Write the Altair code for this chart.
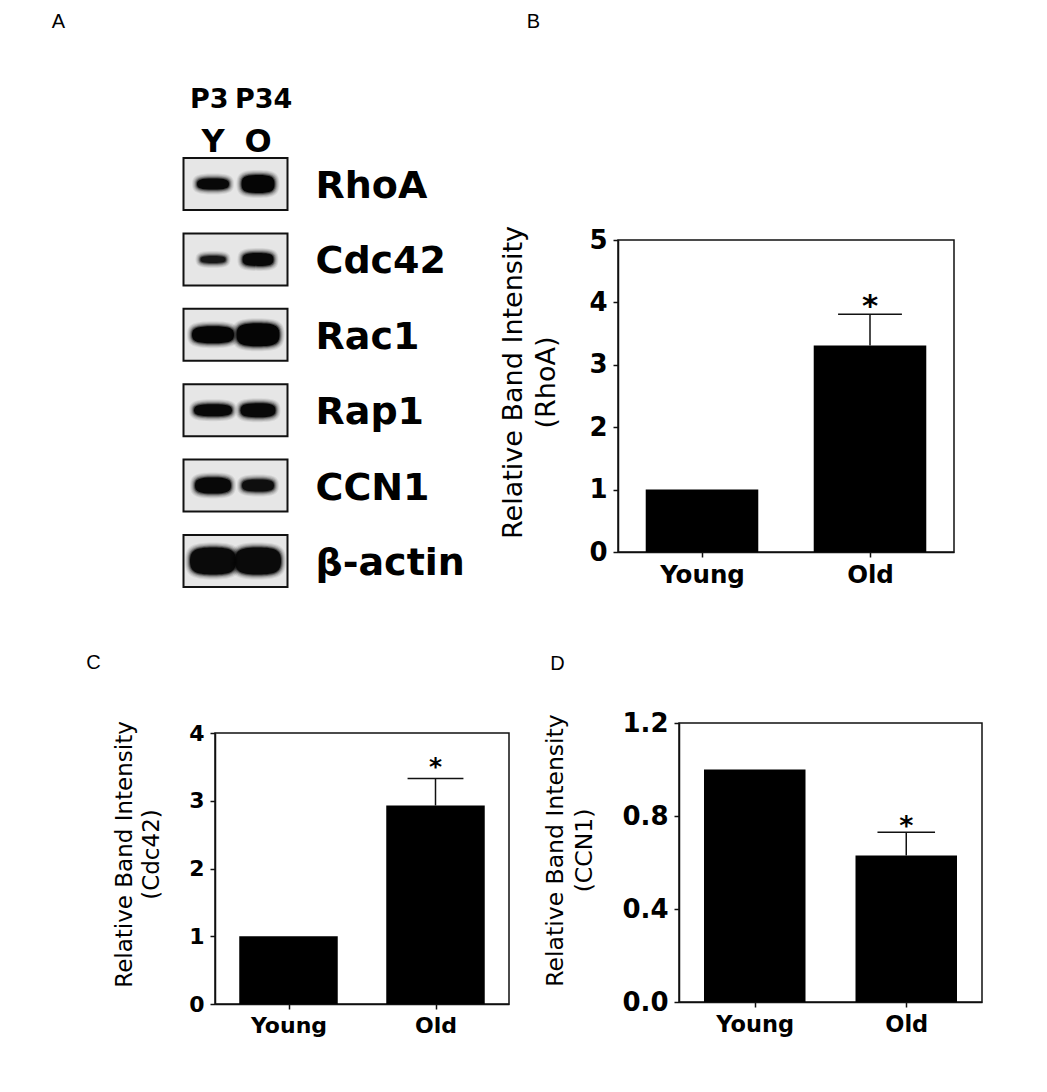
import json
import altair as alt
import pandas as pd

# ---------------- data ----------------
# Panel A (western blot)
proteins = ["RhoA", "Cdc42", "Rac1", "Rap1", "CCN1", "β-actin"]
lanes = ["Y", "O"]
passages = ["P3", "P34"]
# band core width / height (px) and darkness, lane Y then lane O
band_w_Y = [32, 25, 42, 38, 36, 46]
band_w_O = [33, 31, 43, 35, 32, 46]
band_h_Y = [11, 7, 17, 12, 16, 27]
band_h_O = [18, 13, 23, 14, 12, 27]
band_dark_Y = [0.95, 0.72, 1.0, 0.95, 0.95, 0.92]
band_dark_O = [1.0, 0.95, 1.0, 0.95, 0.85, 0.92]

# Panels B-D (bar charts)
groups = ["Young", "Old"]
significance = ["", "*"]
rhoa_mean = [1.0, 3.31]
rhoa_sem = [0.0, 0.50]
cdc42_mean = [1.0, 2.93]
cdc42_sem = [0.0, 0.40]
ccn1_mean = [1.0, 0.63]
ccn1_sem = [0.0, 0.10]

W, H = 1020, 1060
FONT = "DejaVu Sans"
LETTER_FONT = "Liberation Sans"
INK = "#111111"


def blob(r, k=0.78):
    return (f"M-1,0 C-1,{-k*r:.4f} {-k:.4f},{-r:.4f} 0,{-r:.4f} "
            f"C{k:.4f},{-r:.4f} 1,{-k*r:.4f} 1,0 "
            f"C1,{k*r:.4f} {k:.4f},{r:.4f} 0,{r:.4f} "
            f"C{-k:.4f},{r:.4f} -1,{k*r:.4f} -1,0 Z")


BOX_PATH = "M-1,-0.5 L1,-0.5 L1,0.5 L-1,0.5 Z"

# ---------------- panel A ----------------
xa = alt.Scale(domain=[0, 1], range=[205, 250], nice=False, zero=False)
ya = alt.Scale(type="point", domain=proteins, range=[176, 553], padding=0)

band_rows = []
for i, p in enumerate(proteins):
    for j, (ws, hs, ds) in enumerate([(band_w_Y, band_h_Y, band_dark_Y),
                                      (band_w_O, band_h_O, band_dark_O)]):
        w, h, d = ws[i], hs[i], ds[i]
        for grow, op in [(10, 0.07), (8, 0.1), (6, 0.15), (4, 0.25), (2, 0.45), (0, d)]:
            ww, hh = w + grow, h + grow
            band_rows.append({"protein": p, "lane": j, "size": ww * ww,
                              "shape": blob(hh / ww), "op": op})
bands_df = pd.DataFrame(band_rows)
boxes_df = pd.DataFrame({"protein": proteins, "mid": [0.5] * len(proteins)})
head_df = pd.DataFrame({"lane": list(range(len(lanes))), "passage": passages,
                        "label": lanes, "protein": [proteins[0]] * len(lanes)})

XA = alt.X("mid:Q", scale=xa, axis=None)
YA = alt.Y("protein:N", scale=ya, axis=None)

boxes = alt.Chart(boxes_df).mark_point(
    shape=BOX_PATH, size=104 * 104, filled=True, fill="#e6e6e6",
    stroke=INK, strokeWidth=2, opacity=1
).encode(x=XA, y=YA)

bands = alt.Chart(bands_df).mark_point(filled=True, color="#050505", strokeWidth=0).encode(
    x=alt.X("lane:Q", scale=xa, axis=None), y=YA,
    size=alt.Size("size:Q", scale=None),
    shape=alt.Shape("shape:N", scale=None),
    opacity=alt.Opacity("op:Q", scale=None),
)

names = alt.Chart(boxes_df).mark_text(
    align="left", baseline="middle", dx=80, dy=3, font=FONT, fontWeight="bold",
    fontSize=38, color="black"
).encode(x=XA, y=YA, text="protein:N")

head1 = alt.Chart(head_df).mark_text(
    align="left", baseline="middle", dx=-23, dy=-84, font=FONT, fontWeight="bold",
    fontSize=27, color="black"
).encode(x=alt.X("lane:Q", scale=xa, axis=None), y=YA, text="passage:N")

head2 = alt.Chart(head_df).mark_text(
    align="center", baseline="middle", dy=-42, font=FONT, fontWeight="bold",
    fontSize=32, color="black"
).encode(x=alt.X("lane:Q", scale=xa, axis=None), y=YA, text="label:N")

letterA = alt.Chart(head_df.iloc[[0]]).mark_text(
    text="A", align="center", baseline="middle", dx=-154.6, dy=-162.5,
    font=LETTER_FONT, fontSize=20, color="black"
).encode(x=alt.X("lane:Q", scale=xa, axis=None), y=YA)

panelA = [boxes, bands, names, head1, head2, letterA]


# ---------------- panels B-D ----------------
def bar_panel(gene, means, sems, ymax, yticks, fmt, xr, yr, fs_y, fs_x, fs_t,
              lh_t, tpad, title_y, letter, ldx, ldy, star_fs, star_dy):
    n = len(groups)
    df = pd.DataFrame({"group": groups, "mean": means, "sem": sems,
                       "sig": significance})
    df["pos"] = [i + 0.5 for i in range(n)]
    df["top"] = df["mean"] + df["sem"]
    fdf = pd.DataFrame({"x0": [0], "x1": [n], "y0": [0], "y1": [ymax]})
    xs = alt.Scale(domain=[0, n], range=xr, nice=False, zero=False)
    ys = alt.Scale(domain=[0, ymax], range=yr, nice=False, zero=False)

    label_expr = f"{json.dumps(groups)}[floor(datum.value)]"
    frame = alt.Chart(fdf).mark_rect(
        fill="transparent", stroke=INK, strokeWidth=1.5
    ).encode(
        x=alt.X("x0:Q", scale=xs, axis=alt.Axis(
            orient="bottom", offset=yr[0] - H, values=[i + 0.5 for i in range(n)],
            labelExpr=label_expr, title=None, labelFontSize=fs_x,
            labelFlush=False, labelOverlap=False, labelPadding=6)),
        x2="x1:Q",
        y=alt.Y("y0:Q", scale=ys, axis=alt.Axis(
            orient="left", offset=-xr[0], values=yticks, format=fmt,
            title=["Relative Band Intensity", f"({gene})"], titleFontSize=fs_t,
            titleLineHeight=lh_t, titlePadding=tpad, titleY=title_y,
            labelFontSize=fs_y, labelFlush=False, labelOverlap=False,
            labelPadding=6)),
        y2="y1:Q",
    )
    bars = alt.Chart(df).transform_calculate(
        b0="datum.pos - 0.335", b1="datum.pos + 0.335"
    ).mark_rect(color="black").encode(
        x=alt.X("b0:Q", scale=xs, axis=None), x2="b1:Q",
        y=alt.Y("mean:Q", scale=ys, axis=None), y2=alt.datum(0),
    )
    sem_df = alt.Chart(df).transform_filter("datum.sem > 0")
    stem = sem_df.mark_rule(color=INK, strokeWidth=1.5).encode(
        x=alt.X("pos:Q", scale=xs, axis=None),
        y=alt.Y("mean:Q", scale=ys, axis=None), y2="top:Q",
    )
    cap = sem_df.transform_calculate(
        c0="datum.pos - 0.19", c1="datum.pos + 0.19"
    ).mark_rule(color=INK, strokeWidth=1.5).encode(
        x=alt.X("c0:Q", scale=xs, axis=None), x2="c1:Q",
        y=alt.Y("top:Q", scale=ys, axis=None),
    )
    star = alt.Chart(df).transform_filter("datum.sig != ''").mark_text(
        font=FONT, fontWeight="bold", fontSize=star_fs, baseline="alphabetic",
        dy=star_dy, color="black"
    ).encode(x=alt.X("pos:Q", scale=xs, axis=None),
             y=alt.Y("top:Q", scale=ys, axis=None), text="sig:N")
    let = alt.Chart(fdf).mark_text(
        text=letter, align="center", baseline="middle", dx=ldx, dy=ldy,
        font=LETTER_FONT, fontSize=20, color="black"
    ).encode(x=alt.X("x0:Q", scale=xs, axis=None),
             y=alt.Y("y1:Q", scale=ys, axis=None))
    return [frame, bars, stem, cap, star, let]


panelB = bar_panel("RhoA", rhoa_mean, rhoa_sem, 5, [0, 1, 2, 3, 4, 5], "d",
                   [610, 946], [544, 232], 26, 24.5, 27, 33, 28, 374,
                   "B", -84.5, -218.1, 31, 2)
panelC = bar_panel("Cdc42", cdc42_mean, cdc42_sem, 4, [0, 1, 2, 3, 4], "d",
                   [207, 501], [996, 725], 22, 22, 23, 27, 25, 846,
                   "C", -121.5, -69.7, 25, -3)
panelD = bar_panel("CCN1", ccn1_mean, ccn1_sem, 1.2, [0, 0.4, 0.8, 1.2], ".1f",
                   [671, 974], [994, 715], 26, 22.5, 23.5, 29, 25, 842,
                   "D", -121.6, -59.1, 27, 3)

chart = alt.layer(*panelA, *panelB, *panelC, *panelD).resolve_scale(
    x="independent", y="independent"
).properties(
    width=W, height=H, autosize=alt.AutoSizeParams(type="none"), padding=0
).configure_view(stroke=None).configure_axis(
    grid=False, domainColor=INK, tickColor=INK, domainWidth=1.5, tickWidth=1.5,
    tickSize=5, labelColor="black", titleColor="black", labelFont=FONT,
    labelFontWeight="bold", titleFont=FONT, titleFontWeight="normal",
)

chart.save("out.html", embed_options={"renderer": "svg", "actions": False})
